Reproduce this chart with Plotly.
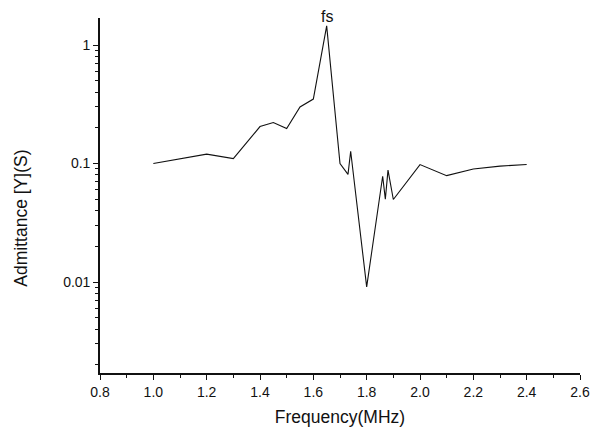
import math
import plotly.graph_objects as go

# Admittance magnitude versus frequency
freq_mhz = [1.0, 1.2, 1.3, 1.4, 1.45, 1.5, 1.55, 1.6, 1.65, 1.7, 1.73, 1.74,
            1.8, 1.81, 1.86, 1.87, 1.88, 1.9, 2.0, 2.1, 2.2, 2.3, 2.4]
admittance_s = [0.1, 0.12, 0.11, 0.205, 0.222, 0.197, 0.30, 0.35, 1.45, 0.1, 0.081, 0.127,
                0.0091, 0.013, 0.078, 0.050, 0.088, 0.0497, 0.098, 0.079, 0.09, 0.095, 0.098]

peak_label = "fs"
x_ticks = [0.8, 1.0, 1.2, 1.4, 1.6, 1.8, 2.0, 2.2, 2.4, 2.6]
x_ticktext = ["0.8", "1.0", "1.2", "1.4", "1.6", "1.8", "2.0", "2.2", "2.4", "2.6"]
y_ticks = [0.01, 0.1, 1]
y_ticktext = ["0.01", "0.1", "1"]

peak_i = admittance_s.index(max(admittance_s))

fig = go.Figure()
fig.add_trace(go.Scatter(
    x=freq_mhz, y=admittance_s, mode="lines",
    line=dict(color="#111111", width=1.1),
    showlegend=False,
))

# annotation y on a log axis is given in log10 units
fig.add_annotation(
    x=freq_mhz[peak_i], y=math.log10(admittance_s[peak_i]), yref="y", xref="x",
    text=peak_label, showarrow=False, yanchor="bottom", yshift=-1,
    font=dict(family="Liberation Sans, Arial", size=16, color="#111111"),
)

axis_font = dict(family="Liberation Sans, Arial", size=14, color="#111111")
title_font = dict(family="Liberation Sans, Arial", size=17.5, color="#111111")

# vertical axis title, placed slightly below the axis midpoint
fig.add_annotation(
    xref="paper", yref="paper", x=-0.165, y=0.437,
    text="Admittance [Y](S)", textangle=-90, showarrow=False,
    xanchor="center", yanchor="middle", font=title_font,
)

fig.update_layout(
    width=593, height=429,
    margin=dict(l=100, r=13, t=18, b=56),
    paper_bgcolor="white", plot_bgcolor="white",
    font=axis_font,
    xaxis=dict(
        range=[0.8, 2.6], tickvals=x_ticks, ticktext=x_ticktext,
        showgrid=False, zeroline=False, automargin=False,
        showline=True, linecolor="#111111", linewidth=1.6,
        ticks="outside", ticklen=5, tickwidth=1.2, tickcolor="#111111",
        minor=dict(dtick=0.1, ticks="outside", ticklen=3, tickwidth=1, tickcolor="#111111"),
        title=dict(text="Frequency(MHz)", font=title_font, standoff=12),
        tickfont=axis_font,
    ),
    yaxis=dict(
        type="log", range=[-2.768, 0.228],
        tickvals=y_ticks, ticktext=y_ticktext,
        showgrid=False, zeroline=False, automargin=False,
        showline=True, linecolor="#111111", linewidth=1.6,
        ticks="outside", ticklen=5, tickwidth=1.2, tickcolor="#111111",
        minor=dict(dtick="D1", ticks="outside", ticklen=3, tickwidth=1, tickcolor="#111111"),
        tickfont=axis_font,
    ),
)

fig.write_html("out.html")
